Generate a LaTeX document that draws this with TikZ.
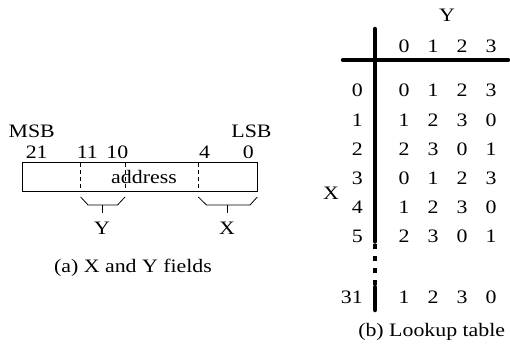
\documentclass[tikz,border=0pt]{standalone}
\usepackage{fontspec}
\setmainfont{Liberation Serif}[FakeStretch=1.15]
\begin{document}
\begin{tikzpicture}[x=1pt,y=-1pt,
  lbl/.style={inner sep=0pt,font=\fontsize{19}{21}\selectfont},
  thin line/.style={line width=0.8pt},
  tableline/.style={line width=4.5pt}]
\useasboundingbox (0,0) rectangle (510,356);

% ---- (a) address fields ----
\draw[line width=0.9pt] (22,162.5) rectangle (257.3,191.5);
\foreach \xx in {80.7,125,198.3}
  \draw[line width=0.9pt,dash pattern=on 4pt off 3pt] (\xx,162.5) -- (\xx,191.5);
\node[lbl] (addr) at (144,176.5) {address};
\node[lbl] (msb) at (31.7,131) {MSB};
\node[lbl] (lsb) at (251.5,131) {LSB};
\node[lbl] (b21) at (36.7,152) {21};
\node[lbl] (b11) at (87.3,152) {11};
\node[lbl] (b10) at (117.3,152) {10};
\node[lbl] (b4) at (204.7,152) {4};
\node[lbl] (b0) at (248.3,152) {0};

% field brackets
\draw[thin line] (80.7,197) -- (88,205) -- (117.5,205) -- (125,197);
\draw[thin line] (102.5,205) -- (102.5,213);
\draw[thin line] (198.3,197) -- (206.5,205) -- (250,205) -- (257.3,197);
\draw[thin line] (227.5,205) -- (227.5,213);
\node[lbl] (fy) at (102,228) {Y};
\node[lbl] (fx) at (227,228) {X};
\node[lbl] (capa) at (133,268) {(a) X and Y fields};

% ---- (b) lookup table ----
\draw[tableline,line cap=round] (375,29) -- (375,241.5);
\draw[tableline,line cap=butt,dash pattern=on 5pt off 7pt] (375,244) -- (375,285);
\draw[tableline,line cap=round] (375,287) -- (375,310);
\draw[tableline,line cap=round] (343,60) -- (508,60);

\node[lbl] (ty) at (447,15) {Y};
\node[lbl] (tx) at (331,193) {X};
\foreach \c [count=\i from 0] in {404,433,462,491}
  \node[lbl] (col\i) at (\c,46) {\i};

\foreach \r/\vals [count=\k from 0] in {0/{0,1,2,3},1/{1,2,3,0},2/{2,3,0,1},3/{0,1,2,3},4/{1,2,3,0},5/{2,3,0,1}}{
  \node[lbl,anchor=east] (row\r) at (363,90.7+29.2*\k) {\r};
  \foreach \v [count=\j from 0] in \vals
    \node[lbl] (cell\r-\j) at (404+29*\j,90.7+29.2*\k) {\v};
}
\node[lbl,anchor=east] (row31) at (363,297) {31};
\foreach \v [count=\j from 0] in {1,2,3,0}
  \node[lbl] (cell31-\j) at (404+29*\j,297) {\v};

\node[lbl] (capb) at (431.7,332) {(b) Lookup table};
\end{tikzpicture}
\end{document}
